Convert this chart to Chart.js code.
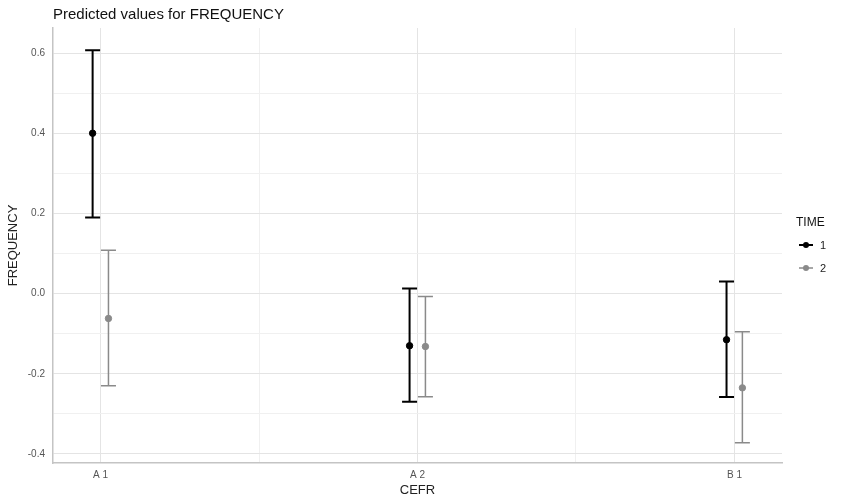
<!DOCTYPE html>
<html>
<head>
<meta charset="utf-8">
<script src="https://cdn.jsdelivr.net/npm/chart.js@4.4.1/dist/chart.umd.min.js"></script>
<style>
html, body { margin: 0; padding: 0; background: #fff; }
#wrap { width: 842px; height: 498px; }
</style>
</head>
<body>
<div id="wrap"><canvas id="freqChart"></canvas></div>
<script>
const categories = ["A 1", "A 2", "B 1"];
const timeLevels = ["1", "2"];

const time1Est = [0.40, -0.13, -0.115];
const time1Low = [0.19, -0.27, -0.258];
const time1High = [0.607, 0.013, 0.03];

const time2Est = [-0.062, -0.132, -0.235];
const time2Low = [-0.23, -0.257, -0.372];
const time2High = [0.108, -0.007, -0.095];

const yTicks = [-0.4, -0.3, -0.2, -0.1, 0, 0.1, 0.2, 0.3, 0.4, 0.5, 0.6];
const yTickLabels = ["-0.4", "", "-0.2", "", "0.0", "", "0.2", "", "0.4", "", "0.6"];
const xTicks = [0, 0.5, 1, 1.5, 2];

const colors = ["#000000", "#8a8a8a"];
const dodge = 0.025;


function points(est, low, high, shift) {
    return categories.map((c, i) => ({ x: i + shift, y: est[i], lo: low[i], hi: high[i] }));
}


const errorBars = {
    id: "errorBars",
    beforeDatasetsDraw(chart) {
        const ctx = chart.ctx;
        const xs = chart.scales.x, ys = chart.scales.y;
        chart.data.datasets.forEach(ds => {
            ctx.save();
            ctx.strokeStyle = ds.borderColor;
            ctx.lineWidth = ds.barLine;
            ds.data.forEach(p => {
                const px = xs.getPixelForValue(p.x);
                const top = ys.getPixelForValue(p.hi);
                const bot = ys.getPixelForValue(p.lo);
                ctx.beginPath();
                ctx.moveTo(px, top);
                ctx.lineTo(px, bot);
                ctx.moveTo(px - 7.5, top);
                ctx.lineTo(px + 7.5, top);
                ctx.moveTo(px - 7.5, bot);
                ctx.lineTo(px + 7.5, bot);
                ctx.stroke();
            });
            ctx.restore();
        });
    }
};


const timeLegend = {
    id: "timeLegend",
    afterDraw(chart) {
        const ctx = chart.ctx;
        ctx.save();
        ctx.font = "12px 'Liberation Sans', Arial, sans-serif";
        ctx.fillStyle = "#111";
        ctx.textBaseline = "middle";
        ctx.fillText("TIME", 796, 223);

        chart.data.datasets.forEach((ds, i) => {
            const cy = 245 + i * 23;
            ctx.strokeStyle = ds.borderColor;
            ctx.lineWidth = ds.barLine;
            ctx.beginPath();
            ctx.moveTo(799, cy);
            ctx.lineTo(813, cy);
            ctx.stroke();
            ctx.fillStyle = ds.borderColor;
            ctx.beginPath();
            ctx.arc(806, cy, 3, 0, Math.PI * 2);
            ctx.fill();
            ctx.fillStyle = "#222";
            ctx.font = "11px 'Liberation Sans', Arial, sans-serif";
            ctx.fillText(timeLevels[i], 820, cy + 1);
        });
        ctx.restore();
    }
};


new Chart(freqChart, {
    type: "scatter",
    data: {
        datasets: [
            {
                label: timeLevels[0],
                data: points(time1Est, time1Low, time1High, -dodge),
                borderColor: colors[0],
                backgroundColor: colors[0],
                pointRadius: 3.2,
                barLine: 2
            },
            {
                label: timeLevels[1],
                data: points(time2Est, time2Low, time2High, dodge),
                borderColor: colors[1],
                backgroundColor: colors[1],
                pointRadius: 3.2,
                barLine: 1.5
            }
        ]
    },
    options: {
        responsive: true,
        maintainAspectRatio: false,
        animation: false,
        layout: { padding: { left: 0, right: 60, top: 0, bottom: 0 } },
        plugins: {
            legend: { display: false },
            tooltip: { enabled: false },
            title: {
                display: true,
                text: "Predicted values for FREQUENCY",
                align: "start",
                fullSize: false,
                color: "#111",
                font: { family: "'Liberation Sans', Arial, sans-serif", size: 15, weight: "normal" },
                padding: { top: 6, bottom: 4 }
            }
        },
        scales: {
            x: {
                type: "linear",
                min: -0.15,
                max: 2.15,
                afterBuildTicks: s => { s.ticks = xTicks.map(v => ({ value: v })); },
                afterFit: s => { s.height = 35; },
                ticks: {
                    autoSkip: false,
                    maxRotation: 0,
                    padding: 6,
                    color: "#555",
                    font: { family: "'Liberation Sans', Arial, sans-serif", size: 10 },
                    callback: v => Number.isInteger(v) ? categories[v] : ""
                },
                grid: {
                    drawTicks: false,
                    color: c => Number.isInteger(c.tick.value) ? "#e4e4e4" : "#f0f0f0"
                },
                border: { display: true, color: "#c4c4c4", width: 1.5 },
                title: {
                    display: true,
                    text: "CEFR",
                    color: "#222",
                    font: { family: "'Liberation Sans', Arial, sans-serif", size: 13 },
                    padding: { top: 0, bottom: 0 }
                }
            },
            y: {
                type: "linear",
                min: -0.4225,
                max: 0.6625,
                afterBuildTicks: s => { s.ticks = yTicks.map(v => ({ value: v })); },
                afterFit: s => { s.width = 53; },
                ticks: {
                    padding: 8,
                    color: "#555",
                    font: { family: "'Liberation Sans', Arial, sans-serif", size: 10 },
                    callback: (v, i) => yTickLabels[i]
                },
                grid: {
                    drawTicks: false,
                    color: c => yTickLabels[c.index] ? "#e4e4e4" : "#f0f0f0"
                },
                border: { display: true, color: "#c4c4c4", width: 1.5 },
                title: {
                    display: true,
                    text: "FREQUENCY",
                    color: "#222",
                    font: { family: "'Liberation Sans', Arial, sans-serif", size: 13 },
                    padding: { top: 6, bottom: 0 }
                }
            }
        }
    },
    plugins: [errorBars, timeLegend]
});
</script>
</body>
</html>
